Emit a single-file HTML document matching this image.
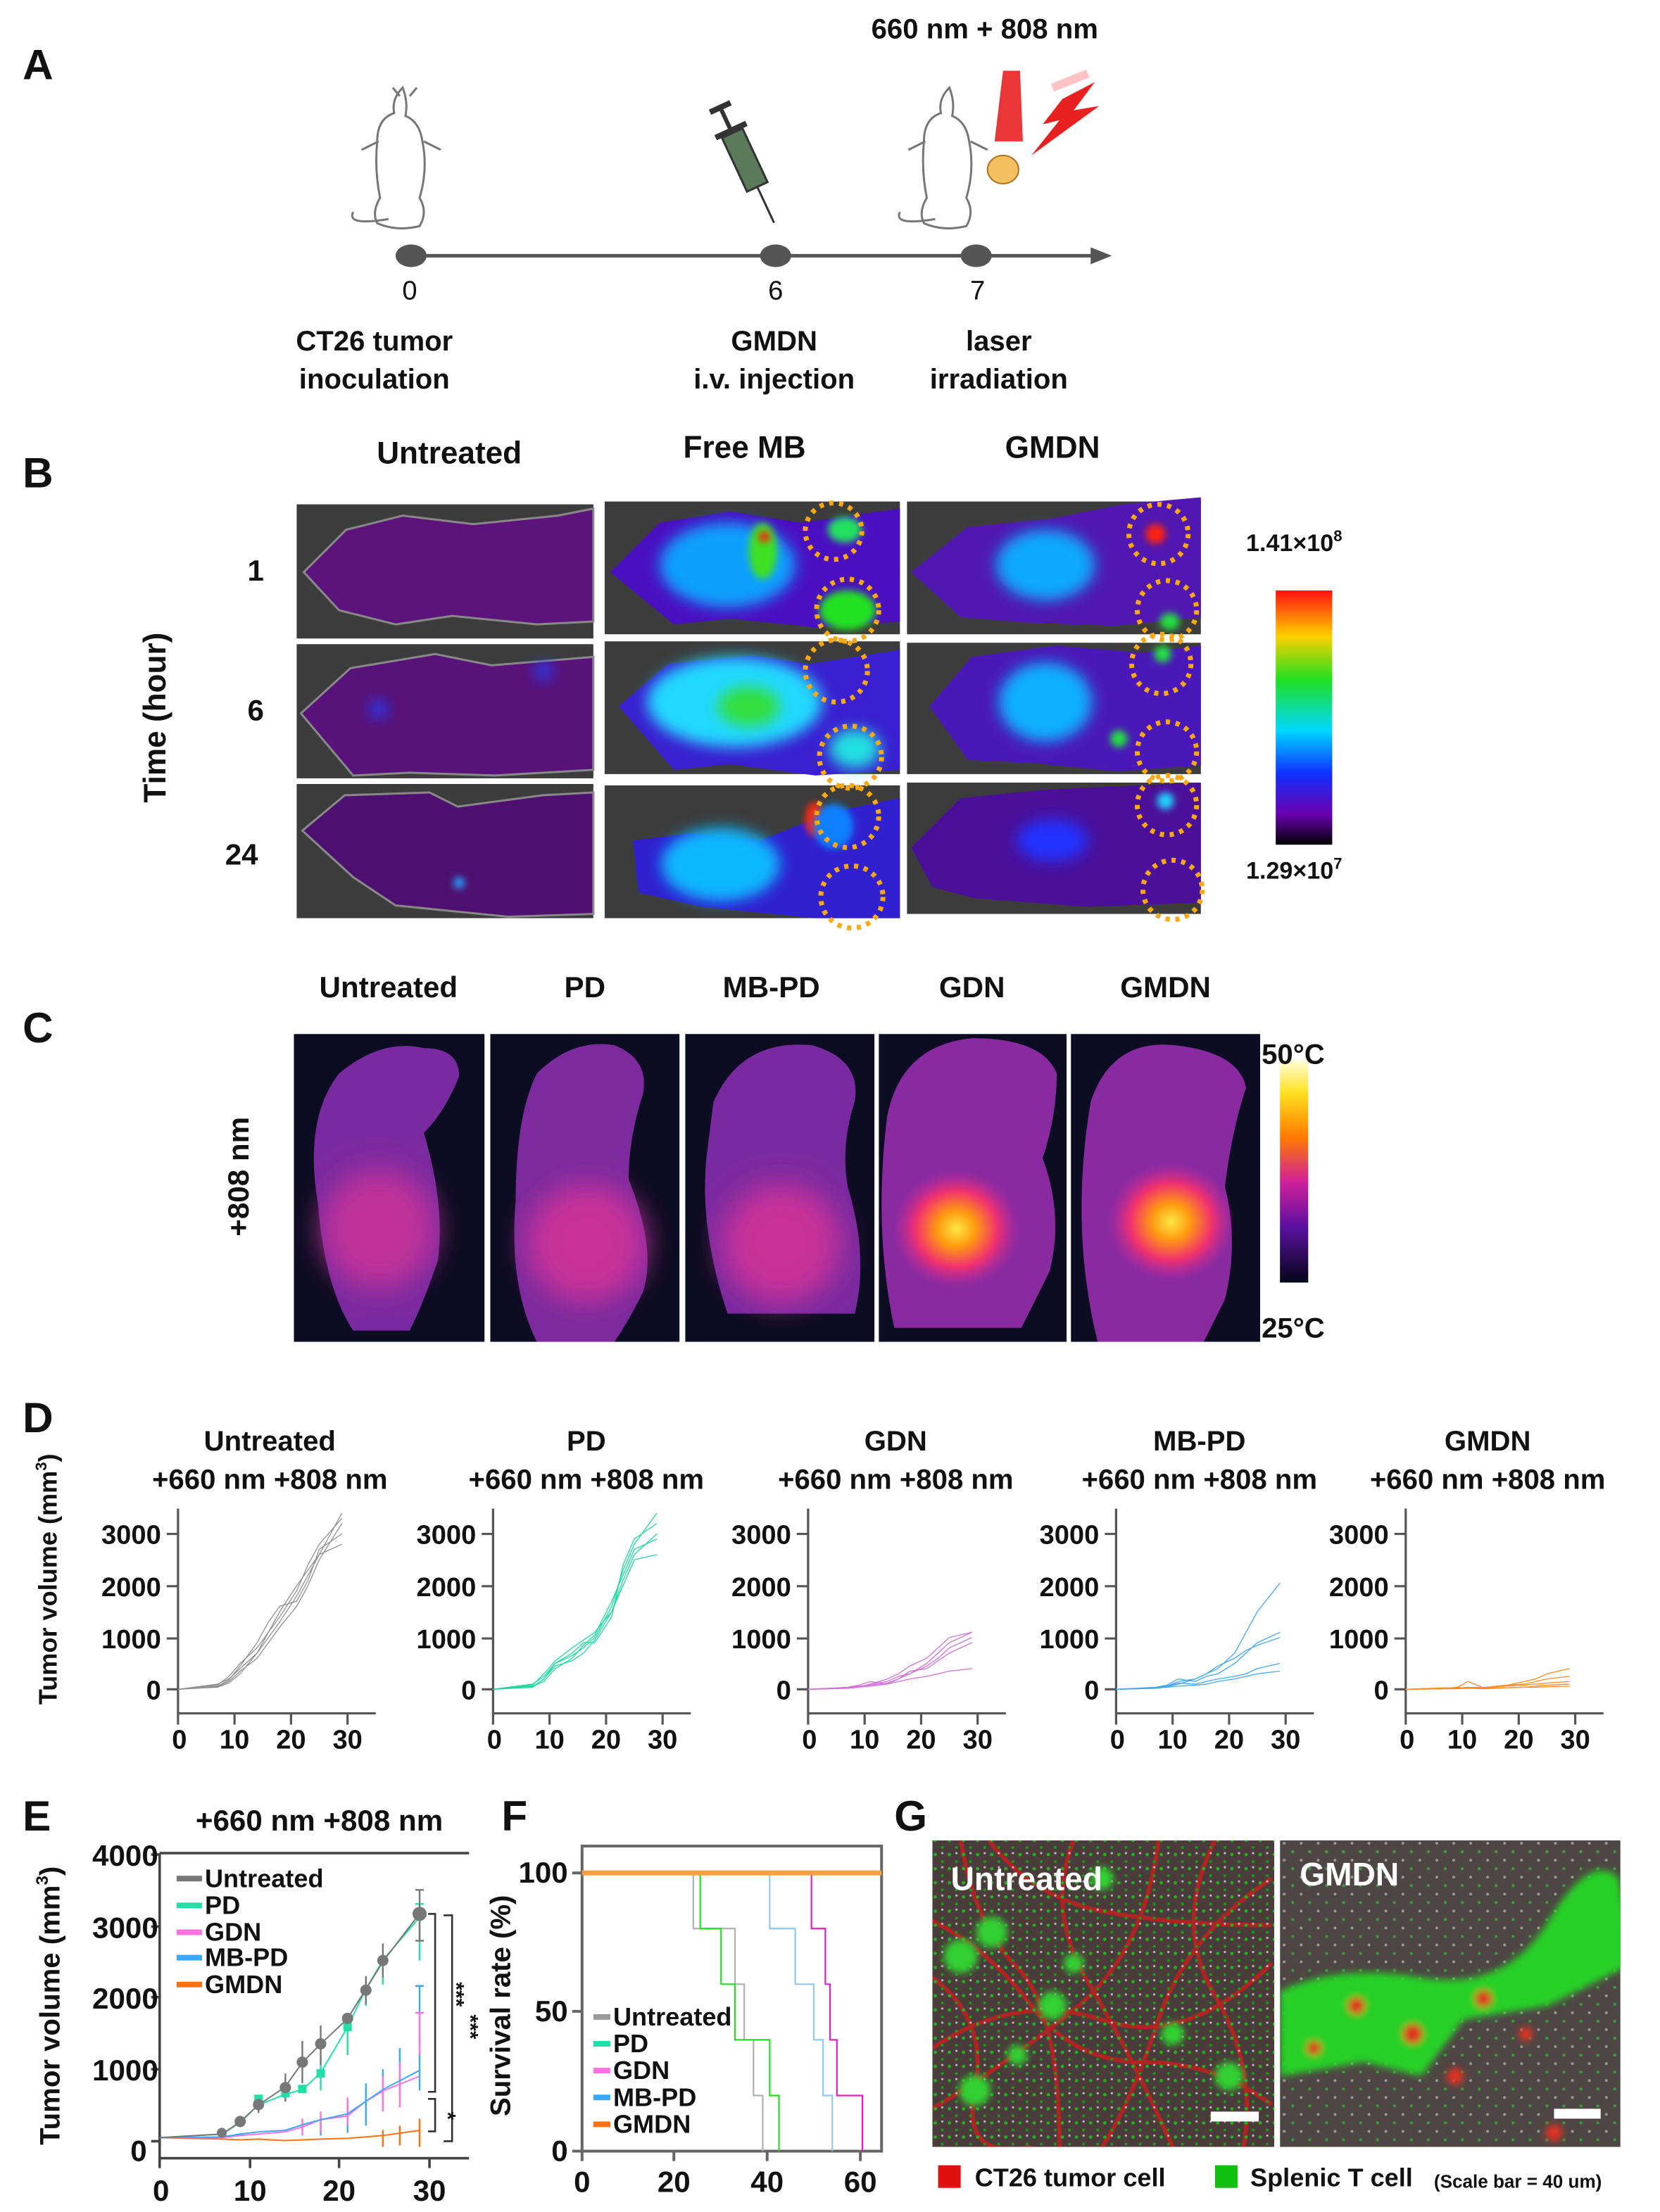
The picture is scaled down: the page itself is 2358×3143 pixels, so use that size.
<!DOCTYPE html>
<html><head><meta charset="utf-8"><style>
html,body{margin:0;padding:0;background:#fff}
svg{display:block}
text{font-family:"Liberation Sans",Arial,sans-serif;font-weight:bold;fill:#111}
</style></head><body>
<svg width="2358" height="3143" viewBox="0 0 1175 1566" xmlns="http://www.w3.org/2000/svg">
<defs>
<filter id="bl" x="-50%" y="-50%" width="200%" height="200%"><feGaussianBlur stdDeviation="5"/></filter>
<filter id="bl3" x="-50%" y="-50%" width="200%" height="200%"><feGaussianBlur stdDeviation="2.5"/></filter>
<filter id="bl2" x="-50%" y="-50%" width="200%" height="200%"><feGaussianBlur stdDeviation="10"/></filter>
<linearGradient id="cb1" x1="0" y1="0" x2="0" y2="1">
<stop offset="0" stop-color="#ff1010"/><stop offset="0.18" stop-color="#ffd000"/><stop offset="0.35" stop-color="#20e020"/><stop offset="0.55" stop-color="#00d8ff"/><stop offset="0.72" stop-color="#1030ff"/><stop offset="0.88" stop-color="#6a00b0"/><stop offset="1" stop-color="#000"/></linearGradient>
<linearGradient id="cb2" x1="0" y1="0" x2="0" y2="1">
<stop offset="0" stop-color="#ffffe0"/><stop offset="0.15" stop-color="#ffe020"/><stop offset="0.35" stop-color="#ff7a00"/><stop offset="0.55" stop-color="#d0209a"/><stop offset="0.75" stop-color="#5a10a0"/><stop offset="1" stop-color="#050518"/></linearGradient>
<radialGradient id="hot"><stop offset="0" stop-color="#ffe840"/><stop offset="0.3" stop-color="#ff9a10"/><stop offset="0.65" stop-color="#f03070"/><stop offset="1" stop-color="#c02aa0" stop-opacity="0"/></radialGradient>
<pattern id="gd" width="10" height="10" patternUnits="userSpaceOnUse"><circle cx="2" cy="3" r="1.2" fill="#22b020"/><circle cx="7" cy="8" r="1" fill="#1a9a1a"/><circle cx="7" cy="2" r="0.8" fill="#bbb"/></pattern>
<pattern id="gd2" width="12" height="12" patternUnits="userSpaceOnUse"><circle cx="3" cy="3" r="1.1" fill="#3a9a3a"/><circle cx="9" cy="9" r="1" fill="#999"/></pattern>
<clipPath id="cc1"><rect x="208" y="732" width="135" height="218"/></clipPath>
<clipPath id="cc2"><rect x="347" y="732" width="134" height="218"/></clipPath>
<clipPath id="cc3"><rect x="485" y="732" width="134" height="218"/></clipPath>
<clipPath id="cc4"><rect x="622" y="732" width="133" height="218"/></clipPath>
<clipPath id="cc5"><rect x="758" y="732" width="134" height="218"/></clipPath>
<clipPath id="gc1"><rect x="660" y="1303" width="242" height="217"/></clipPath>
<clipPath id="gc2"><rect x="906" y="1303" width="241" height="217"/></clipPath>
</defs>

<!-- Panel A -->
<text x="16" y="56" font-size="30">A</text>
<text x="697" y="27" font-size="20" text-anchor="middle">660 nm + 808 nm</text>
<line x1="290" y1="181" x2="775" y2="181" stroke="#555" stroke-width="2.5"/>
<polygon points="787,181 772,175 772,187" fill="#555"/>
<ellipse cx="291" cy="181" rx="11" ry="8" fill="#555"/>
<ellipse cx="549" cy="181" rx="11" ry="8" fill="#555"/>
<ellipse cx="691" cy="181" rx="11" ry="8" fill="#555"/>
<text x="290" y="212" font-size="19" text-anchor="middle" style="font-weight:normal">0</text>
<text x="549" y="212" font-size="19" text-anchor="middle" style="font-weight:normal">6</text>
<text x="692" y="212" font-size="19" text-anchor="middle" style="font-weight:normal">7</text>
<text x="265" y="248" font-size="20" text-anchor="middle">CT26 tumor</text>
<text x="265" y="275" font-size="20" text-anchor="middle">inoculation</text>
<text x="548" y="248" font-size="20" text-anchor="middle">GMDN</text>
<text x="548" y="275" font-size="20" text-anchor="middle">i.v. injection</text>
<text x="707" y="248" font-size="20" text-anchor="middle">laser</text>
<text x="707" y="275" font-size="20" text-anchor="middle">irradiation</text>
<g fill="none" stroke="#777" stroke-width="1.5">
<path d="M285,62 q-8,8 -6,18 q-12,4 -12,20 q-2,20 2,40 q-6,10 -2,18 q14,6 30,2 q6,-10 0,-20 q6,-20 2,-40 q-2,-14 -12,-18 q2,-10 -2,-20z"/>
<path d="M275,155 q-30,5 -25,-5"/><path d="M283,68 l-5,-6 M290,68 l5,-6"/>
<path d="M268,100 l-12,6 M300,100 l12,6"/>
<path d="M672,62 q-8,8 -6,18 q-12,4 -12,20 q-2,20 2,40 q-6,10 -2,18 q14,6 30,2 q6,-10 0,-20 q6,-20 2,-40 q-2,-14 -12,-18 q2,-10 -2,-20z"/>
<path d="M662,155 q-30,5 -25,-5"/><path d="M655,100 l-12,6 M687,100 l12,6"/>
</g>
<g transform="rotate(-25 528 115)">
<rect x="520" y="92" width="16" height="42" fill="#5a7a5a" stroke="#333" stroke-width="1.5"/>
<rect x="516" y="88" width="24" height="4" fill="#333"/>
<line x1="528" y1="88" x2="528" y2="74" stroke="#333" stroke-width="3"/>
<rect x="520" y="70" width="16" height="4" fill="#333"/>
<line x1="528" y1="134" x2="528" y2="162" stroke="#333" stroke-width="1.5"/>
</g>
<polygon points="710,50 722,50 724,100 704,100" fill="#e82020" opacity="0.9"/>
<polygon points="752,70 775,58 760,78 778,75 730,110 750,85 738,88" fill="#e82020"/>
<path d="M745,62 l25,-10" stroke="#f88" stroke-width="6" opacity="0.5"/>
<ellipse cx="710" cy="120" rx="11" ry="10" fill="#f5c060" stroke="#b07020"/>

<!-- Panel B -->
<text x="16" y="345" font-size="30">B</text>
<text x="318" y="328" font-size="22" text-anchor="middle">Untreated</text>
<text x="527" y="324" font-size="22" text-anchor="middle">Free MB</text>
<text x="745" y="324" font-size="22" text-anchor="middle">GMDN</text>
<text x="181" y="411" font-size="21" text-anchor="middle">1</text>
<text x="181" y="510" font-size="21" text-anchor="middle">6</text>
<text x="171" y="612" font-size="21" text-anchor="middle">24</text>
<text transform="translate(117,508) rotate(-90)" font-size="22" text-anchor="middle">Time (hour)</text>
<g>
<rect x="210" y="357" width="210" height="95" fill="#3c3c3c"/>
<path d="M215,405 l30,-30 40,-10 50,6 60,-6 25,-5 0,80 -40,2 -60,-6 -40,6 -40,-10z" fill="#5c147c" stroke="#888" stroke-width="1.5"/>
<rect x="210" y="456" width="210" height="95" fill="#3c3c3c"/>
<path d="M213,505 l35,-32 60,-10 40,8 72,-6 0,80 -70,4 -60,-2 -40,2z" fill="#58127a" stroke="#888" stroke-width="1.5"/>
<circle cx="268" cy="502" r="6" fill="#2040ff" filter="url(#bl)"/>
<circle cx="385" cy="475" r="6" fill="#2040ff" filter="url(#bl)"/>
<rect x="210" y="555" width="210" height="95" fill="#3c3c3c"/>
<path d="M214,588 l30,-25 60,-2 20,10 60,-8 36,-2 0,86 -60,2 -80,-8 -30,-20z" fill="#4e1070" stroke="#888" stroke-width="1.5"/>
<circle cx="325" cy="625" r="4" fill="#20a0ff" filter="url(#bl3)"/>
</g>
<g>
<rect x="428" y="355" width="209" height="94" fill="#3c3c3c"/>
<path d="M432,405 l35,-35 50,-8 50,8 70,-10 0,80 -60,4 -60,-6 -40,4z" fill="#4a10c0"/>
<ellipse cx="515" cy="400" rx="48" ry="30" fill="#10a0ff" filter="url(#bl)"/>
<ellipse cx="540" cy="390" rx="10" ry="20" fill="#40e020" filter="url(#bl3)"/>
<circle cx="541" cy="380" r="4" fill="#ff2010" filter="url(#bl3)"/>
<ellipse cx="600" cy="432" rx="20" ry="14" fill="#20e020" filter="url(#bl3)"/>
<ellipse cx="598" cy="375" rx="12" ry="9" fill="#20e060" filter="url(#bl3)"/>
<rect x="428" y="454" width="209" height="94" fill="#3c3c3c"/>
<path d="M438,500 l35,-30 60,-6 40,6 64,-10 0,85 -60,4 -60,-8 -40,4z" fill="#3a20d0"/>
<ellipse cx="520" cy="497" rx="62" ry="32" fill="#20d8ff" filter="url(#bl)"/>
<ellipse cx="530" cy="500" rx="22" ry="14" fill="#30e040" filter="url(#bl)"/>
<ellipse cx="605" cy="530" rx="18" ry="14" fill="#20e0e0" filter="url(#bl)"/>
<rect x="428" y="556" width="209" height="94" fill="#3c3c3c"/>
<path d="M448,595 l40,-5 50,5 50,-20 49,-10 0,85 -60,0 -80,-8 -45,-10z" fill="#3020d0"/>
<ellipse cx="510" cy="612" rx="42" ry="26" fill="#10b8ff" filter="url(#bl)"/>
<ellipse cx="577" cy="580" rx="7" ry="12" fill="#ff2a10" filter="url(#bl3)"/>
<ellipse cx="590" cy="585" rx="14" ry="16" fill="#1080ff" filter="url(#bl3)"/>
</g>
<g>
<rect x="642" y="355" width="208" height="94" fill="#3c3c3c"/>
<path d="M645,405 l40,-32 60,-6 50,-10 55,-5 0,85 -60,6 -60,-2 -50,-4z" fill="#5018b0"/>
<ellipse cx="740" cy="400" rx="35" ry="25" fill="#10a8ff" filter="url(#bl)"/>
<circle cx="818" cy="378" r="7" fill="#ff2010" filter="url(#bl3)"/>
<ellipse cx="828" cy="440" rx="7" ry="6" fill="#20e040" filter="url(#bl3)"/>
<rect x="642" y="455" width="208" height="93" fill="#3c3c3c"/>
<path d="M658,500 l30,-35 60,-8 60,5 42,-5 0,85 -60,4 -60,-6 -45,-2z" fill="#4a18b8"/>
<ellipse cx="740" cy="497" rx="33" ry="28" fill="#10b0ff" filter="url(#bl)"/>
<circle cx="823" cy="463" r="6" fill="#20e040" filter="url(#bl3)"/>
<circle cx="792" cy="523" r="6" fill="#20e040" filter="url(#bl3)"/>
<rect x="642" y="554" width="208" height="93" fill="#3c3c3c"/>
<path d="M645,600 l35,-35 60,-6 110,-5 0,85 -80,3 -80,-6 -30,-8z" fill="#4a109a"/>
<circle cx="825" cy="567" r="6" fill="#20d0ff" filter="url(#bl3)"/>
<ellipse cx="745" cy="595" rx="25" ry="15" fill="#2030ff" filter="url(#bl)"/>
</g>
<g fill="none" stroke="#f8a810" stroke-width="3.5" stroke-dasharray="3,4">
<circle cx="590" cy="376" r="20"/><circle cx="600" cy="432" r="22"/>
<circle cx="592" cy="475" r="22"/><circle cx="602" cy="536" r="22"/>
<circle cx="600" cy="578" r="22"/><circle cx="603" cy="635" r="22"/>
<circle cx="820" cy="378" r="21"/><circle cx="826" cy="432" r="21"/>
<circle cx="822" cy="470" r="21"/><circle cx="826" cy="532" r="21"/>
<circle cx="826" cy="570" r="21"/><circle cx="830" cy="630" r="21"/>
</g>
<rect x="903" y="418" width="40" height="180" fill="url(#cb1)"/>
<text x="882" y="390" font-size="17">1.41×10<tspan font-size="11" dy="-7">8</tspan></text>
<text x="882" y="622" font-size="17">1.29×10<tspan font-size="11" dy="-7">7</tspan></text>

<!-- Panel C -->
<text x="16" y="738" font-size="30">C</text>
<text x="275" y="706" font-size="21" text-anchor="middle">Untreated</text>
<text x="414" y="706" font-size="21" text-anchor="middle">PD</text>
<text x="546" y="706" font-size="21" text-anchor="middle">MB-PD</text>
<text x="688" y="706" font-size="21" text-anchor="middle">GDN</text>
<text x="825" y="706" font-size="21" text-anchor="middle">GMDN</text>
<text transform="translate(176,833) rotate(-90)" font-size="21" text-anchor="middle">+808 nm</text>
<g clip-path="url(#cc1)">
<rect x="208" y="732" width="135" height="218" fill="#0c0c22"/>
<path d="M240,760 q30,-25 60,-18 q25,0 25,20 q-10,25 -25,40 q15,50 10,90 q-10,30 -20,50 l-40,0 q-20,-30 -25,-90 q-10,-60 15,-92z" fill="#7a2aa0"/>
<ellipse cx="268" cy="870" rx="40" ry="42" fill="#c0309a" filter="url(#bl2)"/>
</g>
<g clip-path="url(#cc2)">
<rect x="347" y="732" width="134" height="218" fill="#0c0c22"/>
<path d="M380,760 q25,-25 55,-20 q25,10 20,35 q-10,30 -10,60 q20,50 10,80 q-10,20 -20,35 l-55,0 q-20,-40 -15,-100 q0,-60 15,-90z" fill="#7c2a9e"/>
<ellipse cx="415" cy="880" rx="42" ry="42" fill="#c8309a" filter="url(#bl2)"/>
</g>
<g clip-path="url(#cc3)">
<rect x="485" y="732" width="134" height="218" fill="#0c0c22"/>
<path d="M505,780 q20,-45 70,-40 q35,10 30,40 q-10,30 -5,60 q15,50 5,90 l-90,0 q-20,-60 -15,-110z" fill="#7a2aa0"/>
<ellipse cx="553" cy="880" rx="42" ry="42" fill="#c8309a" filter="url(#bl2)"/>
</g>
<g clip-path="url(#cc4)">
<rect x="622" y="732" width="133" height="218" fill="#0c0c22"/>
<path d="M628,790 q10,-50 60,-55 q50,0 60,25 q0,30 -10,60 q15,40 5,80 l-20,40 l-90,0 q-15,-70 -5,-150z" fill="#8a2aa0"/>
<ellipse cx="677" cy="870" rx="45" ry="42" fill="url(#hot)"/>
</g>
<g clip-path="url(#cc5)">
<rect x="758" y="732" width="134" height="218" fill="#0c0c22"/>
<path d="M772,780 q15,-45 60,-40 q45,5 50,30 q-10,30 -15,70 q10,40 0,80 l-15,30 l-75,0 q-20,-80 -5,-170z" fill="#8a2aa0"/>
<ellipse cx="829" cy="865" rx="45" ry="42" fill="url(#hot)"/>
</g>
<rect x="906" y="750" width="20" height="158" fill="url(#cb2)"/>
<text x="893" y="753" font-size="20">50°C</text>
<text x="893" y="947" font-size="20">25°C</text>

<!-- Panel D -->
<text x="16" y="1014" font-size="30">D</text>
<text transform="translate(40,1118) rotate(-90)" font-size="18" text-anchor="middle">Tumor volume (mm<tspan font-size="11" dy="-7">3</tspan><tspan dy="7">)</tspan></text>
<g font-size="20" text-anchor="middle">
<text x="191" y="1027">Untreated</text><text x="191" y="1054">+660 nm +808 nm</text>
<text x="415" y="1027">PD</text><text x="415" y="1054">+660 nm +808 nm</text>
<text x="634" y="1027">GDN</text><text x="634" y="1054">+660 nm +808 nm</text>
<text x="849" y="1027">MB-PD</text><text x="849" y="1054">+660 nm +808 nm</text>
<text x="1053" y="1027">GMDN</text><text x="1053" y="1054">+660 nm +808 nm</text>
</g>
<g id="dax">
<g stroke="#555" stroke-width="1.6" fill="none">
<path d="M126,1068 V1213 H266 M126,1213 v8 M166,1213 v8 M206,1213 v8 M246,1213 v8 M118,1196 h8 M118,1160 h8 M118,1123 h8 M118,1086 h8"/>
</g>
<g font-size="19" text-anchor="end"><text x="114" y="1203">0</text><text x="114" y="1167">1000</text><text x="114" y="1130">2000</text><text x="114" y="1093">3000</text></g>
<g font-size="19" text-anchor="middle"><text x="127" y="1238">0</text><text x="166" y="1238">10</text><text x="206" y="1238">20</text><text x="246" y="1238">30</text></g>
</g>
<use href="#dax" x="223"/><use href="#dax" x="446"/><use href="#dax" x="664"/><use href="#dax" x="869"/>
<g fill="none" stroke-width="1.3">
<g transform="translate(126,1196) scale(4,-0.0367)" stroke="#909090">
<polyline vector-effect="non-scaling-stroke" points="0,0 7,100 9,200 11,400 14,700 16,1000 18,1300 21,1800 23,2200 25,2600 29,3400"/>
<polyline vector-effect="non-scaling-stroke" points="0,0 7,50 9,150 11,350 14,600 16,900 18,1200 21,1600 23,2000 25,2500 29,3200"/>
<polyline vector-effect="non-scaling-stroke" points="0,0 7,80 9,250 11,500 14,800 16,1100 18,1500 21,2000 23,2300 25,2600 29,2800"/>
<polyline vector-effect="non-scaling-stroke" points="0,0 7,60 9,180 11,450 14,900 16,1300 18,1600 21,1700 23,2100 25,2700 29,3000"/>
<polyline vector-effect="non-scaling-stroke" points="0,0 7,40 9,120 11,300 14,700 16,1100 18,1400 21,1900 23,2400 25,2800 29,3300"/>
</g>
<g transform="translate(349,1196) scale(4,-0.0367)" stroke="#1ed8a0">
<polyline vector-effect="non-scaling-stroke" points="0,0 7,100 9,250 11,500 14,650 16,800 18,1000 21,1600 23,2300 25,2800 29,3400"/>
<polyline vector-effect="non-scaling-stroke" points="0,0 7,50 9,200 11,450 14,550 16,700 18,950 21,1500 23,2100 25,2600 29,3000"/>
<polyline vector-effect="non-scaling-stroke" points="0,0 7,80 9,300 11,550 14,800 16,950 18,1100 21,1500 23,2000 25,2500 29,2600"/>
<polyline vector-effect="non-scaling-stroke" points="0,0 7,60 9,150 11,400 14,600 16,850 18,1050 21,1700 23,2200 25,2700 29,2900"/>
<polyline vector-effect="non-scaling-stroke" points="0,0 7,40 9,200 11,500 14,700 16,900 18,900 21,1400 23,2400 25,2900 29,3200"/>
</g>
<g transform="translate(572,1196) scale(4,-0.0367)" stroke="#d070d8">
<polyline vector-effect="non-scaling-stroke" points="0,0 7,30 9,60 11,80 14,120 16,200 18,300 21,500 23,700 25,900 29,1100"/>
<polyline vector-effect="non-scaling-stroke" points="0,0 7,20 9,50 11,100 14,200 16,300 18,450 21,600 23,800 25,1000 29,1100"/>
<polyline vector-effect="non-scaling-stroke" points="0,0 7,40 9,80 11,150 14,100 16,200 18,350 21,400 23,550 25,700 29,900"/>
<polyline vector-effect="non-scaling-stroke" points="0,0 7,20 9,40 11,60 14,100 16,150 18,200 21,250 23,300 25,350 29,400"/>
<polyline vector-effect="non-scaling-stroke" points="0,0 7,30 9,50 11,100 14,150 16,250 18,300 21,450 23,600 25,800 29,1000"/>
</g>
<g transform="translate(790,1196) scale(4,-0.0367)" stroke="#40a8f0">
<polyline vector-effect="non-scaling-stroke" points="0,0 7,30 9,60 11,150 14,200 16,300 18,400 21,700 23,1100 25,1500 29,2050"/>
<polyline vector-effect="non-scaling-stroke" points="0,0 7,40 9,80 11,200 14,150 16,250 18,300 21,500 23,700 25,900 29,1100"/>
<polyline vector-effect="non-scaling-stroke" points="0,0 7,20 9,50 11,100 14,200 16,300 18,450 21,600 23,750 25,850 29,1000"/>
<polyline vector-effect="non-scaling-stroke" points="0,0 7,30 9,60 11,120 14,100 16,150 18,200 21,250 23,300 25,400 29,500"/>
<polyline vector-effect="non-scaling-stroke" points="0,0 7,20 9,40 11,60 14,80 16,100 18,150 21,200 23,250 25,300 29,350"/>
</g>
<g transform="translate(995,1196) scale(4,-0.0367)" stroke="#ff8a20">
<polyline vector-effect="non-scaling-stroke" points="0,0 7,20 9,30 11,150 14,20 16,50 18,80 21,150 23,200 25,300 29,400"/>
<polyline vector-effect="non-scaling-stroke" points="0,0 7,30 9,20 11,40 14,30 16,60 18,80 21,100 23,150 25,200 29,250"/>
<polyline vector-effect="non-scaling-stroke" points="0,0 7,10 9,20 11,30 14,40 16,50 18,60 21,80 23,100 25,120 29,150"/>
<polyline vector-effect="non-scaling-stroke" points="0,0 7,20 9,40 11,20 14,10 16,20 18,30 21,40 23,60 25,80 29,100"/>
<polyline vector-effect="non-scaling-stroke" points="0,0 7,10 9,10 11,20 14,20 16,30 18,30 21,40 23,40 25,50 29,60"/>
</g>
</g>

<!-- Panel E -->
<text x="16" y="1296" font-size="30">E</text>
<text x="226" y="1296" font-size="21" text-anchor="middle">+660 nm +808 nm</text>
<g stroke="#444" stroke-width="1.8" fill="none">
<path d="M113,1312 H332 M113,1312 V1528 H332 M107,1313 h6 M107,1364 h6 M107,1414 h6 M107,1465 h6 M107,1516 h6 M113,1528 v7 M177,1528 v7 M240,1528 v7 M304,1528 v7"/>
</g>
<g font-size="21" text-anchor="end"><text x="112" y="1321">4000</text><text x="112" y="1372">3000</text><text x="112" y="1422">2000</text><text x="112" y="1473">1000</text><text x="104" y="1530">0</text></g>
<g font-size="21" text-anchor="middle"><text x="114" y="1558">0</text><text x="177" y="1558">10</text><text x="240" y="1558">20</text><text x="304" y="1558">30</text></g>
<text transform="translate(42,1420) rotate(-90)" font-size="20" text-anchor="middle">Tumor volume (mm<tspan font-size="12" dy="-8">3</tspan><tspan dy="8">)</tspan></text>
<g stroke-width="1.2" fill="none">
<path d="M297,1446 v-40 M294,1406 h6 M297,1480 v-30 M283,1450 v30 M271,1465 v30 M259,1475 v30 M246,1490 v20 M227,1500 v12" stroke="#3aa8f8"/>
<path d="M297,1455 v-30 M294,1425 h6 M283,1460 v32 M271,1470 v25 M246,1485 v20 M227,1495 v15 M214,1500 v12" stroke="#ff70e0"/>
<path d="M297,1500 v20 M283,1505 v14 M271,1508 v12" stroke="#ff7010"/>
<path d="M297,1348 v40 M294,1348 h6 M271,1385 v20 M259,1400 v20 M246,1425 v30 M227,1455 v25" stroke="#20e0a8"/>
<path d="M297,1338 v36 M294,1338 h6 M294,1374 h6 M259,1399 v20 M271,1376 v24 M227,1434 v28 M214,1445 v30 M202,1468 v20 M183,1484 v12" stroke="#777"/>
</g>
<g transform="translate(113,1516) scale(6.33,-0.051)" fill="none" stroke-width="2">
<polyline vector-effect="non-scaling-stroke" stroke="#ff7010" points="0,50 7,30 9,20 11,30 14,10 16,20 18,30 21,40 23,60 25,80 29,150"/>
<polyline vector-effect="non-scaling-stroke" stroke="#ff70e0" points="0,50 7,50 9,80 11,100 14,130 16,200 18,300 21,350 23,550 25,700 29,900"/>
<polyline vector-effect="non-scaling-stroke" stroke="#3aa8f8" points="0,50 7,60 9,100 11,130 14,150 16,230 18,300 21,380 23,550 25,720 29,980"/>
<polyline vector-effect="non-scaling-stroke" stroke="#20e0a8" points="0,50 7,100 9,260 11,500 14,650 16,720 18,950 21,1580 23,2100 25,2520 29,3100"/>
<polyline vector-effect="non-scaling-stroke" stroke="#777" points="0,50 7,100 9,270 11,500 14,750 16,1100 18,1350 21,1700 23,2100 25,2500 29,3150"/>
</g>
<g fill="#20e0a8"><rect x="180" y="1483" width="6" height="6"/><rect x="199" y="1479" width="6" height="6"/><rect x="211" y="1476" width="6" height="6"/><rect x="224" y="1465" width="6" height="6"/><rect x="243" y="1432" width="6" height="6"/></g>
<g fill="#777"><circle cx="157" cy="1510" r="3.5"/><circle cx="170" cy="1502" r="4"/><circle cx="183" cy="1490" r="4"/><circle cx="202" cy="1478" r="4"/><circle cx="214" cy="1460" r="4"/><circle cx="227" cy="1447" r="4"/><circle cx="246" cy="1429" r="4"/><circle cx="259" cy="1409" r="4"/><circle cx="271" cy="1388" r="4"/><circle cx="297" cy="1355" r="5"/></g>
<g stroke="#333" stroke-width="1.3" fill="none">
<path d="M303,1355 h5 V1481 h-5 M314,1356 h6 V1516 h-6 M303,1486 h5 V1509 h-5"/>
</g>
<text transform="translate(318,1412) rotate(90)" font-size="15" text-anchor="middle">***</text>
<text transform="translate(328,1435) rotate(90)" font-size="15" text-anchor="middle">***</text>
<text transform="translate(312,1498) rotate(90)" font-size="15" text-anchor="middle">*</text>
<g font-size="18">
<line x1="125" y1="1330" x2="143" y2="1330" stroke="#777" stroke-width="4"/><text x="145" y="1336">Untreated</text>
<line x1="125" y1="1349" x2="143" y2="1349" stroke="#20e0a8" stroke-width="4"/><text x="145" y="1355">PD</text>
<line x1="125" y1="1368" x2="143" y2="1368" stroke="#ff70e0" stroke-width="4"/><text x="145" y="1374">GDN</text>
<line x1="125" y1="1386" x2="143" y2="1386" stroke="#3aa8f8" stroke-width="4"/><text x="145" y="1392">MB-PD</text>
<line x1="125" y1="1405" x2="143" y2="1405" stroke="#ff7010" stroke-width="4"/><text x="145" y="1411">GMDN</text>
</g>

<!-- Panel F -->
<text x="355" y="1296" font-size="30">F</text>
<rect x="412" y="1307" width="212" height="216" fill="none" stroke="#666" stroke-width="2"/>
<g stroke="#666" stroke-width="2"><path d="M405,1326 h7 M405,1424 h7 M405,1523 h7 M412,1523 v7 M477,1523 v7 M543,1523 v7 M609,1523 v7"/></g>
<g font-size="21" text-anchor="end"><text x="402" y="1333">100</text><text x="402" y="1431">50</text><text x="402" y="1530">0</text></g>
<g font-size="21" text-anchor="middle"><text x="412" y="1552">0</text><text x="477" y="1552">20</text><text x="543" y="1552">40</text><text x="609" y="1552">60</text></g>
<text transform="translate(361,1420) rotate(-90)" font-size="20" text-anchor="middle">Survival rate (%)</text>
<g transform="translate(412,1523) scale(3.28,-1.97)" fill="none" stroke-width="2.2">
<polyline vector-effect="non-scaling-stroke" stroke="#b0b0b0" points="0,100 24,100 24,80 33,80 33,60 35,60 35,40 37,40 37,20 39,20 39,0"/>
<polyline vector-effect="non-scaling-stroke" stroke="#20e020" points="0,100 25.5,100 25.5,80 30,80 30,60 33,60 33,40 40.5,40 40.5,20 42.5,20 42.5,0"/>
<polyline vector-effect="non-scaling-stroke" stroke="#90c8f0" points="0,100 40.5,100 40.5,80 46,80 46,60 50,60 50,40 52,40 52,20 54,20 54,0"/>
<polyline vector-effect="non-scaling-stroke" stroke="#e020c0" points="0,100 49.5,100 49.5,80 52.5,80 52.5,60 53.5,60 53.5,40 55,40 55,20 60.5,20 60.5,0"/>
<polyline vector-effect="non-scaling-stroke" stroke="#f8a040" points="0,100 64.5,100"/>
</g>
<line x1="412" y1="1326" x2="624" y2="1326" stroke="#f8a040" stroke-width="3.5"/>
<g font-size="18">
<line x1="420" y1="1428" x2="432" y2="1428" stroke="#999" stroke-width="4"/><text x="434" y="1434">Untreated</text>
<line x1="420" y1="1447" x2="432" y2="1447" stroke="#20e0a8" stroke-width="4"/><text x="434" y="1453">PD</text>
<line x1="420" y1="1466" x2="432" y2="1466" stroke="#ff70e0" stroke-width="4"/><text x="434" y="1472">GDN</text>
<line x1="420" y1="1485" x2="432" y2="1485" stroke="#3aa8f8" stroke-width="4"/><text x="434" y="1491">MB-PD</text>
<line x1="420" y1="1504" x2="432" y2="1504" stroke="#ff7010" stroke-width="4"/><text x="434" y="1510">GMDN</text>
</g>

<!-- Panel G -->
<text x="633" y="1296" font-size="30">G</text>
<g clip-path="url(#gc1)">
<rect x="660" y="1303" width="242" height="217" fill="#4a3c3a"/>
<g stroke="#c02020" stroke-width="3" fill="none" opacity="0.85">
<path d="M660,1360 q40,20 70,60 t80,40 t90,30 M680,1303 q10,60 40,90 t30,130 M760,1303 q-20,50 10,100 t60,117 M820,1303 q-10,80 -60,120 t-100,70 M900,1330 q-60,40 -80,100 t-40,90 M660,1450 q60,-40 120,-20 t120,-40 M700,1303 q30,40 80,50 t120,10 M660,1400 q40,30 30,80 t40,40 M860,1303 q-30,60 0,110 t20,110"/>
</g>
<rect x="660" y="1303" width="242" height="217" fill="url(#gd)"/>
<g fill="#30d030" filter="url(#bl3)"><circle cx="680" cy="1385" r="12"/><circle cx="702" cy="1368" r="11"/><circle cx="745" cy="1420" r="10"/><circle cx="690" cy="1480" r="11"/><circle cx="830" cy="1440" r="8"/><circle cx="870" cy="1470" r="10"/><circle cx="780" cy="1330" r="8"/><circle cx="720" cy="1455" r="7"/><circle cx="760" cy="1390" r="7"/></g>
</g>
<g clip-path="url(#gc2)">
<rect x="906" y="1303" width="241" height="217" fill="#4e4644"/>
<rect x="906" y="1303" width="241" height="217" fill="url(#gd2)"/>
<g filter="url(#bl3)"><path d="M906,1410 q40,-20 100,-10 t90,-40 t50,-30 l10,60 -60,30 -60,10 -30,40 -40,-10 -60,10z" fill="#28d028"/>
<circle cx="960" cy="1420" r="6" fill="#e03020"/><circle cx="1000" cy="1440" r="7" fill="#e03020"/><circle cx="1050" cy="1415" r="6" fill="#e03020"/><circle cx="1030" cy="1470" r="6" fill="#e03020"/><circle cx="930" cy="1450" r="5" fill="#e03020"/><circle cx="1100" cy="1510" r="6" fill="#e03020"/><circle cx="1080" cy="1440" r="5" fill="#e03020"/></g>
</g>
<text x="673" y="1338" font-size="23" style="fill:#fff">Untreated</text>
<text x="920" y="1335" font-size="23" style="fill:#fff">GMDN</text>
<rect x="857" y="1495" width="34" height="7" fill="#fff"/>
<rect x="1100" y="1493" width="33" height="7" fill="#fff"/>
<rect x="664" y="1533" width="16" height="16" fill="#e01010"/>
<text x="690" y="1548" font-size="18">CT26 tumor cell</text>
<rect x="860" y="1533" width="16" height="16" fill="#10c010"/>
<text x="885" y="1548" font-size="18">Splenic T cell</text>
<text x="1015" y="1549" font-size="13">(Scale bar = 40 um)</text>
</svg>
</body></html>
